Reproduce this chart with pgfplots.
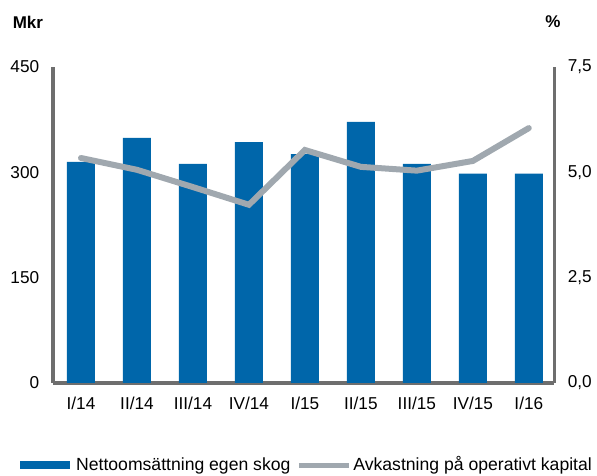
\documentclass[border=0pt]{standalone}
\usepackage{pgfplots}
\pgfplotsset{compat=1.18}
\usepackage{fontspec}
\setmainfont{Liberation Sans}
\definecolor{barblue}{RGB}{0,102,170}
\definecolor{linegray}{RGB}{160,168,175}
\definecolor{axisgray}{RGB}{110,110,110}
\begin{document}
\fontsize{17bp}{20bp}\selectfont
\begin{tikzpicture}
\path[use as bounding box] (0,0) rectangle (597bp,476bp);
\begin{axis}[
  at={(53bp,93bp)}, anchor=south west,
  scale only axis, width=501bp, height=316bp,
  xmin=-0.5, xmax=8.45,
  ymin=0, ymax=450,
  axis y line*=left, axis x line*=bottom,
  axis line style={draw=axisgray, line width=3bp, -},
  xtick={0,...,8},
  xticklabels={I/14,II/14,III/14,IV/14,I/15,II/15,III/15,IV/15,I/16},
  ytick={0,150,300,450},
  major tick length=0pt,
  tick label style={font=\fontsize{17.2bp}{20bp}\selectfont},
  /pgf/number format/assume math mode=true,
  yticklabel style={xshift=-8bp},
  xticklabel style={yshift=-8bp},
  clip=false,
  legend columns=2,
  legend style={draw=none, fill=none, at={(0.503,-0.26)}, anchor=center,
    font=\fontsize{17.6bp}{20bp}\selectfont,
    /tikz/every even column/.append style={column sep=4bp}},
  legend image code/.code={\draw[#1] (0bp,0bp) -- (50bp,0bp);},
]
\addplot[ybar, bar width=28bp, bar shift=0pt, fill=barblue, draw=none,
  legend image code/.code={\draw[barblue, line width=8bp] (0bp,0bp) -- (50bp,0bp);}]
  coordinates {(0,315) (1,349) (2,312) (3,343) (4,326) (5,372) (6,312) (7,298) (8,298)};
\addlegendentry{Nettoomsättning egen skog}
\addlegendimage{linegray, line width=5bp}
\addlegendentry{Avkastning på operativt kapital}
\node[font=\bfseries\fontsize{17bp}{20bp}\selectfont] at (rel axis cs:-0.05,1.142) {Mkr};
\node[font=\bfseries\fontsize{17bp}{20bp}\selectfont] at (rel axis cs:0.998,1.142) {\%};
\end{axis}
\begin{axis}[
  at={(53bp,93bp)}, anchor=south west,
  scale only axis, width=501bp, height=316bp,
  xmin=-0.5, xmax=8.45,
  ymin=0, ymax=7.5,
  axis y line*=right, axis x line=none,
  axis line style={draw=axisgray, line width=3bp, -},
  ytick={0,2.5,5,7.5},
  major tick length=0pt,
  tick label style={font=\fontsize{17.2bp}{20bp}\selectfont},
  /pgf/number format/.cd, assume math mode=true, use comma, fixed, fixed zerofill, precision=1,
  /pgfplots/.cd,
  yticklabel style={xshift=8bp},
]
\addplot[linegray, line width=6bp, line cap=round, line join=miter]
  coordinates {(0,5.34) (1,5.06) (2,4.65) (3,4.23) (4,5.53) (5,5.13) (6,5.04) (7,5.27) (8,6.05)};
\end{axis}
\end{tikzpicture}
\end{document}
